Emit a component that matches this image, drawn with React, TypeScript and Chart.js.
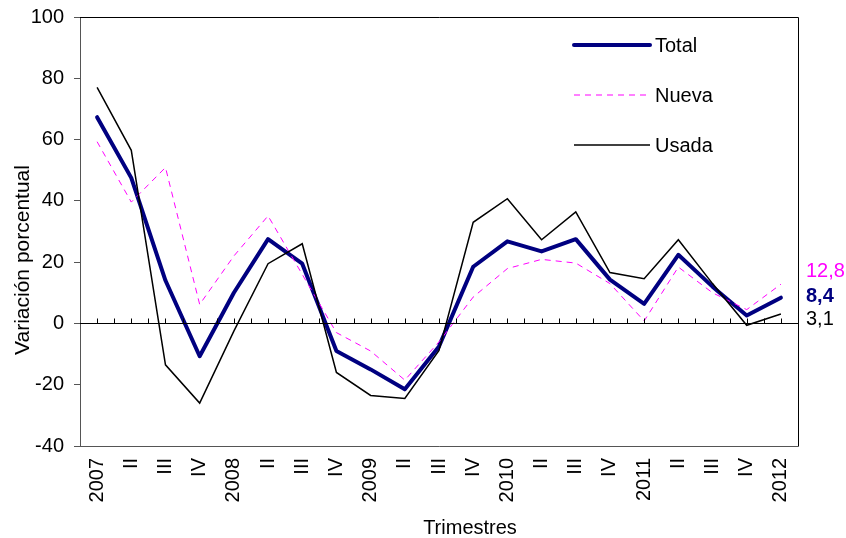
import React, { useEffect, useRef } from "react";
import { Chart, registerables } from "chart.js";

Chart.register(...registerables);

const categories = ["2007", "II", "III", "IV", "2008", "II", "III", "IV", "2009", "II", "III", "IV", "2010", "II", "III", "IV", "2011", "II", "III", "IV", "2012"];
const totalValues = [67.3, 47.5, 14, -10.7, 10, 27.5, 19.5, -9, -15, -21.5, -7.5, 18.5, 26.8, 23.5, 27.5, 14.3, 6.4, 22.4, 12, 2.6, 8.4];
const nuevaValues = [59.3, 39.6, 50.9, 6.2, 22, 35.1, 16, -3, -9, -18.5, -6, 8.6, 17.9, 20.9, 19.7, 13, 0.8, 18.4, 10, 4.5, 12.8];
const usadaValues = [77, 56.5, -13.5, -26, -2.5, 19.5, 26, -16, -23.5, -24.5, -8.8, 33, 40.7, 27.3, 36.4, 16.6, 14.6, 27.3, 13, -0.6, 3.1];
const seriesNames = ["Total", "Nueva", "Usada"];
const endLabels = ["12,8", "8,4", "3,1"];
const yTitle = "Variación porcentual";
const xTitle = "Trimestres";

const FONT = "'Liberation Sans', Arial, sans-serif";
const NAVY = "#000080";
const MAGENTA = "#FF00FF";

const decorPlugin = {
  id: "decor",
  afterDatasetsDraw(chart: any) {
    const { ctx, chartArea, scales } = chart;
    const y = scales.y;
    ctx.save();
    // box
    ctx.lineWidth = 1;
    ctx.beginPath();
    ctx.moveTo(chartArea.left, chartArea.top + 0.5);
    ctx.lineTo(chartArea.right + 0.5, chartArea.top + 0.5);
    ctx.lineTo(chartArea.right + 0.5, chartArea.bottom + 0.5);
    ctx.strokeStyle = "#000";
    ctx.stroke();
    ctx.beginPath();
    ctx.moveTo(chartArea.left, chartArea.bottom + 0.5);
    ctx.lineTo(chartArea.right + 0.5, chartArea.bottom + 0.5);
    ctx.strokeStyle = "#555";
    ctx.stroke();
    // zero line
    const y0 = Math.round(y.getPixelForValue(0)) + 0.5;
    ctx.strokeStyle = "#000";
    ctx.beginPath();
    ctx.moveTo(chartArea.left, y0);
    ctx.lineTo(chartArea.right, y0);
    const n = categories.length;
    const step = (chartArea.right - chartArea.left) / n;
    for (let k = 1; k < n * 2; k++) {
      const px = Math.round(chartArea.left + (k * step) / 2) + 0.5;
      ctx.moveTo(px, y0);
      ctx.lineTo(px, y0 - 5);
    }
    ctx.stroke();

    // legend
    const lx1 = 574;
    const lx2 = 650;
    const rows = [45, 95, 145];
    const styles = [
      { color: NAVY, width: 4, dash: [] as number[] },
      { color: MAGENTA, width: 1, dash: [6, 5] },
      { color: "#000", width: 1.5, dash: [] as number[] },
    ];
    ctx.font = `20px ${FONT}`;
    ctx.textBaseline = "middle";
    ctx.textAlign = "left";
    rows.forEach((ry, i) => {
      const s = styles[i];
      ctx.beginPath();
      ctx.lineWidth = s.width;
      ctx.strokeStyle = s.color;
      ctx.setLineDash(s.dash);
      ctx.lineCap = i === 0 ? "round" : "butt";
      ctx.moveTo(lx1, ry);
      ctx.lineTo(lx2, ry);
      ctx.stroke();
      ctx.setLineDash([]);
      ctx.fillStyle = "#000";
      ctx.fillText(seriesNames[i], 655, ry + 1);
    });

    // end labels
    const ex = chartArea.right + 8;
    ctx.fillStyle = MAGENTA;
    ctx.font = `20px ${FONT}`;
    ctx.fillText(endLabels[0], ex, 271);
    ctx.fillStyle = NAVY;
    ctx.font = `bold 20px ${FONT}`;
    ctx.fillText(endLabels[1], ex, 296);
    ctx.fillStyle = "#000";
    ctx.font = `20px ${FONT}`;
    ctx.fillText(endLabels[2], ex, 319);

    // axis titles
    ctx.textAlign = "center";
    ctx.fillText(xTitle, 470, 528);
    ctx.save();
    ctx.translate(23, 260);
    ctx.rotate(-Math.PI / 2);
    ctx.font = `21px ${FONT}`;
    ctx.fillText(yTitle, 0, 0);
    ctx.restore();
    ctx.restore();
  },
};

export default function App() {
  const ref = useRef<HTMLCanvasElement | null>(null);
  useEffect(() => {
    if (!ref.current) return;
    const chart = new Chart(ref.current, {
      type: "line",
      data: {
        labels: categories,
        datasets: [
          {
            label: seriesNames[2],
            data: usadaValues,
            borderColor: "#000",
            borderWidth: 1.5,
            pointRadius: 0,
            tension: 0,
          },
          {
            label: seriesNames[1],
            data: nuevaValues,
            borderColor: MAGENTA,
            borderWidth: 1,
            borderDash: [6, 5],
            pointRadius: 0,
            tension: 0,
          },
          {
            label: seriesNames[0],
            data: totalValues,
            borderColor: NAVY,
            borderWidth: 4,
            borderCapStyle: "round",
            borderJoinStyle: "round",
            pointRadius: 0,
            tension: 0,
          },
        ],
      },
      options: {
        animation: false,
        responsive: false,
        maintainAspectRatio: false,
        layout: { padding: { left: 0, right: 48, top: 17, bottom: 0 } },
        plugins: { legend: { display: false }, tooltip: { enabled: false } },
        scales: {
          x: {
            offset: true,
            grid: { display: false, drawTicks: false },
            border: { display: false },
            ticks: {
              autoSkip: false,
              maxRotation: 90,
              minRotation: 90,
              padding: 12,
              color: "#000",
              font: { family: FONT, size: 20 },
            },
            afterFit: (s: any) => {
              s.height = 92;
              s.paddingTop = 0;
              s.paddingBottom = 0;
            },
          },
          y: {
            min: -40,
            max: 100,
            grid: { display: true, drawOnChartArea: false, drawTicks: true, tickLength: 6, color: "#555" },
            border: { display: true, color: "#555" },
            ticks: {
              stepSize: 20,
              padding: 10,
              color: "#000",
              font: { family: FONT, size: 20 },
            },
            afterFit: (s: any) => {
              s.width = 80;
              s.paddingTop = 0;
              s.paddingBottom = 0;
            },
          },
        },
      },
      plugins: [decorPlugin],
    });
    return () => chart.destroy();
  }, []);
  return (
    <div style={{ position: "fixed", left: 0, top: 0, width: 846, height: 538, background: "#fff" }}>
      <canvas ref={ref} width={846} height={538} style={{ width: 846, height: 538 }} />
    </div>
  );
}
